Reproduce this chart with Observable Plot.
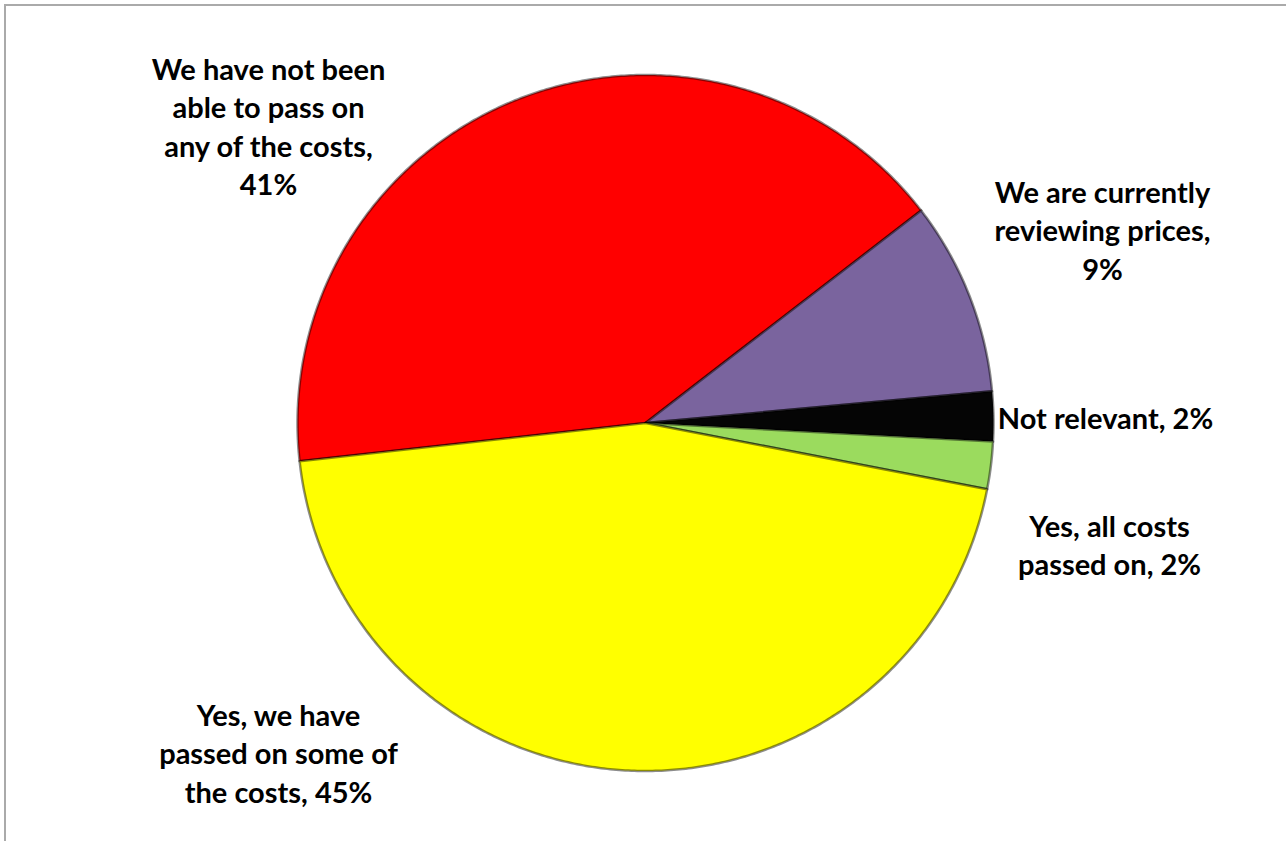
<!DOCTYPE html>
<html>
<head>
<meta charset="utf-8">
<script src="https://cdn.jsdelivr.net/npm/d3@7"></script>
<script src="https://cdn.jsdelivr.net/npm/@observablehq/plot@0.6"></script>
<style>
html, body { margin: 0; padding: 0; background: #fff; overflow: hidden; }
#frame { position: absolute; left: 4px; top: 4px; width: 1300px; height: 860px;
  border-left: 2px solid #aaaaaa; border-top: 2px solid #aaaaaa; }
#chart { position: absolute; left: 0; top: 0; }
</style>
</head>
<body>
<div id="frame"></div>
<div id="chart"></div>
<script>
// ---- Data ----
const categories = [
  "We have not been able to pass on any of the costs",
  "We are currently reviewing prices",
  "Not relevant",
  "Yes, all costs passed on",
  "Yes, we have passed on some of the costs"
];
const values = [41.3, 9.0, 2.3, 2.2, 45.2];
const labelTexts = [
  "We have not been\nable to pass on\nany of the costs,\n41%",
  "We are currently\nreviewing prices,\n9%",
  "Not relevant, 2%",
  "Yes, all costs\npassed on, 2%",
  "Yes, we have\npassed on some of\nthe costs, 45%"
];

// ---- Styles / layout ----
const colors = ["#FF0000", "#7A649E", "#050505", "#9BDB5E", "#FFFF00"];
const startDeg = -96.3;            // first slice start angle (clockwise from 12 o'clock)
const cx = 645, cy = 422.5, R = 348;
const labelPixel = [[268, 124.5], [1102, 228.5], [1105, 416], [1109, 543], [278, 751.5]];

const X = d3.scaleLinear([-1, 1], [cx - R, cx + R]);
const Y = d3.scaleLinear([-1, 1], [cy + R, cy - R]);

const rows = categories.map((name, i) => ({name, value: values[i]}));
const start = startDeg * Math.PI / 180;
const arcs = d3.pie().sort(null).value(d => d.value).startAngle(start).endAngle(start + 2 * Math.PI)(rows);

function slicePoints(k) {
  return arcs.flatMap(a => {
    const n = Math.max(4, Math.ceil((a.endAngle - a.startAngle) / (Math.PI / 360)));
    const out = [{name: a.data.name, x: 0, y: 0}];
    for (let i = 0; i <= n; i++) {
      const t = a.startAngle + (a.endAngle - a.startAngle) * i / n;
      out.push({name: a.data.name, x: k * Math.sin(t), y: k * Math.cos(t)});
    }
    out.push({name: a.data.name, x: 0, y: 0});
    return out;
  });
}
const pts = slicePoints(1);

const labels = categories.map((name, i) => ({
  name, text: labelTexts[i],
  x: X.invert(labelPixel[i][0]), y: Y.invert(labelPixel[i][1])
}));

const chart = Plot.plot({
  width: 1286,
  height: 841,
  margin: 0,
  style: {background: "transparent", fontFamily: "Lato, sans-serif"},
  x: {domain: [-1, 1], range: [cx - R, cx + R], axis: null},
  y: {domain: [-1, 1], range: [cy + R, cy - R], axis: null},
  color: {domain: categories, range: colors},
  marks: [
    Plot.line(pts, {x: "x", y: "y", z: "name", fill: "name", stroke: "rgba(0,0,0,0.45)",
      strokeWidth: 2.5, strokeLinejoin: "round", curve: "linear"}),
    Plot.text(labels, {x: "x", y: "y", text: "text", fontSize: 29, fontWeight: 700,
      lineHeight: 1.33, lineAnchor: "middle", textAnchor: "middle", fill: "#000",
      fontFamily: "Lato, sans-serif"})
  ]
});
document.getElementById("chart").appendChild(chart);
</script>
</body>
</html>
